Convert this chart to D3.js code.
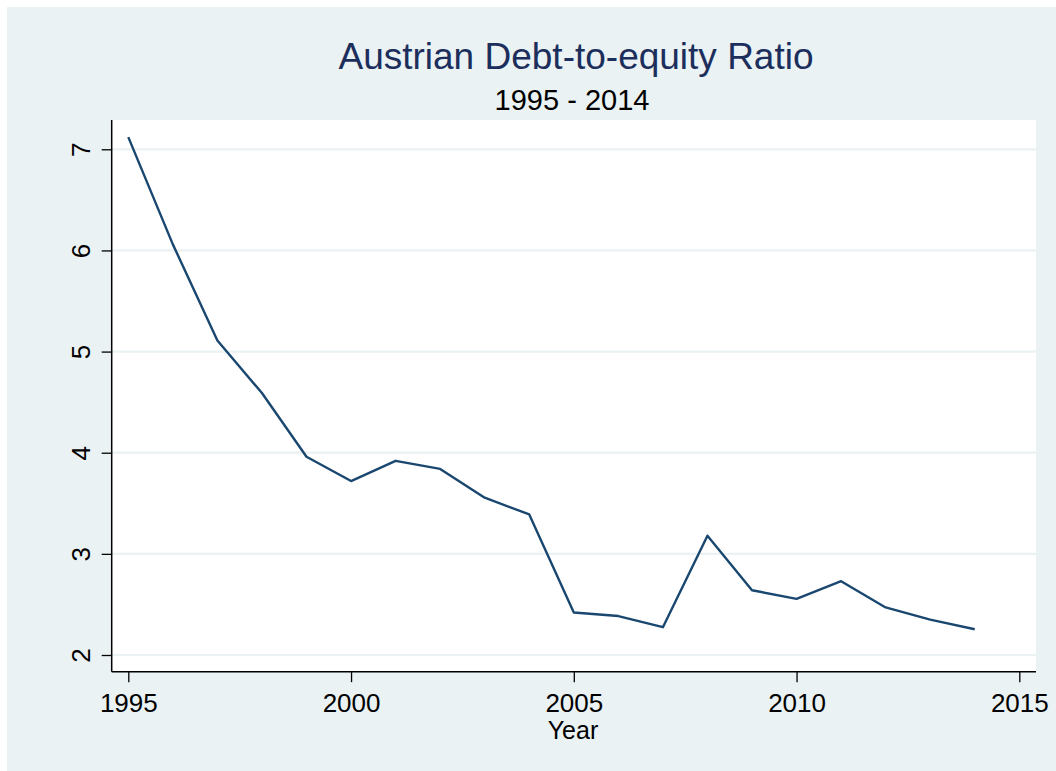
<!DOCTYPE html>
<html>
<head>
<meta charset="utf-8">
<script src="https://cdn.jsdelivr.net/npm/d3@7"></script>
<style>
    body { margin: 0; background: #ffffff; }
    text { font-family: "Liberation Sans", Arial, sans-serif; }
</style>
</head>
<body>
<script>
// chart data
var years = [1995, 1996, 1997, 1998, 1999, 2000, 2001, 2002, 2003, 2004,
             2005, 2006, 2007, 2008, 2009, 2010, 2011, 2012, 2013, 2014];
var ratios = [7.12, 6.06, 5.11, 4.59, 3.96, 3.72, 3.92, 3.84, 3.555, 3.39,
              2.42, 2.385, 2.275, 3.18, 2.64, 2.555, 2.73, 2.47, 2.35, 2.255];
var xTicks = [1995, 2000, 2005, 2010, 2015];
var yTicks = [2, 3, 4, 5, 6, 7];

window.onload = function() {
    var w = 1056, h = 771;

    var svg = d3.select("body")
        .append("svg")
        .attr("width", w)
        .attr("height", h);

    // outer light bluish-gray background
    svg.append("rect")
        .attr("x", 7).attr("y", 7)
        .attr("width", w - 7).attr("height", h - 7)
        .style("fill", "#eaf2f3");

    // plot region
    var left = 111.7, right = 1036, top = 120, bottom = 671.7;

    svg.append("rect")
        .attr("x", left).attr("y", top)
        .attr("width", right - left).attr("height", bottom - top)
        .style("fill", "#ffffff");

    var xScale = d3.scaleLinear()
        .domain([1995, 2015])
        .range([128.3, 1019.3]);

    var yScale = d3.scaleLinear()
        .domain([2, 7])
        .range([655, 149.3]);

    // grid lines
    svg.selectAll(".grid")
        .data(yTicks)
        .enter()
        .append("line")
        .attr("class", "grid")
        .attr("x1", left).attr("x2", right)
        .attr("y1", function(d) { return yScale(d); })
        .attr("y2", function(d) { return yScale(d); })
        .style("stroke", "#eaf2f3")
        .style("stroke-width", 2.2);

    // y axis
    var yAxis = svg.append("g")
        .attr("transform", "translate(" + left + ",0)")
        .call(d3.axisLeft(yScale).tickValues(yTicks).tickSize(10).tickFormat(d3.format("d")));
    yAxis.select(".domain")
        .attr("d", "M0," + top + "V" + bottom)
        .style("stroke", "#000").style("stroke-width", 1.5);
    yAxis.selectAll(".tick line").style("stroke", "#000").style("stroke-width", 1.3);
    yAxis.selectAll(".tick text")
        .attr("x", null).attr("dy", null)
        .attr("transform", "translate(-22,0) rotate(-90)")
        .attr("text-anchor", "middle")
        .style("font-size", "26px")
        .style("fill", "#000");

    // x axis
    var xAxis = svg.append("g")
        .attr("transform", "translate(0," + bottom + ")")
        .call(d3.axisBottom(xScale).tickValues(xTicks).tickSize(10.5).tickFormat(d3.format("d")));
    xAxis.select(".domain")
        .attr("d", "M" + left + ",0H" + right)
        .style("stroke", "#000").style("stroke-width", 1.5);
    xAxis.selectAll(".tick line").style("stroke", "#000").style("stroke-width", 1.3);
    xAxis.selectAll(".tick text")
        .attr("y", 40).attr("dy", null)
        .style("font-size", "26px")
        .style("fill", "#000");

    // the data line
    var line = d3.line()
        .x(function(d) { return xScale(d[0]); })
        .y(function(d) { return yScale(d[1]); });

    svg.append("path")
        .datum(d3.zip(years, ratios))
        .attr("d", line)
        .style("fill", "none")
        .style("stroke", "#1a476f")
        .style("stroke-width", 2.4)
        .style("stroke-linejoin", "round");

    // titles
    svg.append("text")
        .attr("x", 576).attr("y", 69)
        .attr("text-anchor", "middle")
        .style("font-size", "37px")
        .style("fill", "#1c2e5c")
        .text("Austrian Debt-to-equity Ratio");

    svg.append("text")
        .attr("x", 572).attr("y", 110)
        .attr("text-anchor", "middle")
        .style("font-size", "29px")
        .style("fill", "#000")
        .text("1995 - 2014");

    svg.append("text")
        .attr("x", 573).attr("y", 739)
        .attr("text-anchor", "middle")
        .style("font-size", "25px")
        .style("fill", "#000")
        .text("Year");
};
</script>
</body>
</html>
